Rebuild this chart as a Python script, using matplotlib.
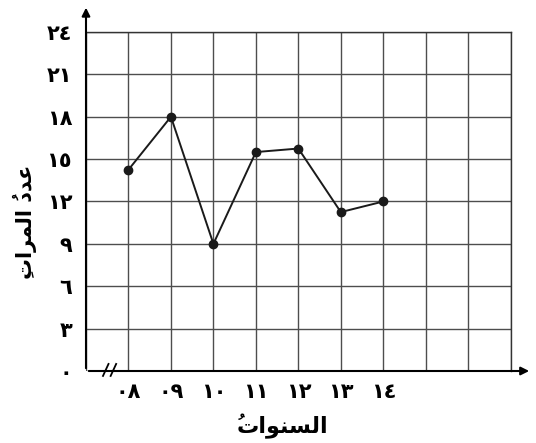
import matplotlib.pyplot as plt

plt.rcParams['font.family'] = ['DejaVu Sans']

# data
years = ['٠٨', '٠٩', '١٠', '١١', '١٢', '١٣', '١٤']
counts = [14.25, 18, 9, 15.5, 15.75, 11.25, 12]
y_ticks = [0, 3, 6, 9, 12, 15, 18, 21, 24]
y_labels = ['٠', '٣', '٦', '٩', '١٢', '١٥', '١٨', '٢١', '٢٤']

# arabic labels, pre-shaped (presentation forms, visual order) since matplotlib has no shaping
x_title = '\u064F\uFE95\uFE8D\uFEEE\uFEE8\uFEB4\uFEDF\uFE8D'          # السنواتُ
y_title = '\u0650\uFE95\uFE8D\uFEAE\uFEE4\uFEDF\uFE8D \u064F\uFEA9\uFEAA\uFECB'  # عددُ المراتِ

fig = plt.figure(figsize=(5.36, 4.43), dpi=100)
ax = fig.add_axes([86 / 536, 1 - 371 / 443, (510.7 - 86) / 536, (371 - 32) / 443])

xs = list(range(1, len(years) + 1))
ax.plot(xs, counts, color='#1a1a1a', lw=1.4, marker='o', ms=6, zorder=3, clip_on=False)

ax.set_xlim(0, 10)
ax.set_ylim(0, 24)
ax.set_xticks(range(0, 11))
ax.set_yticks(y_ticks)
ax.grid(True, color='#4d4d4d', lw=1.0)
ax.tick_params(length=0)
ax.set_xticklabels([''] + years + ['', '', ''], fontsize=15, fontweight='bold')
ax.set_yticklabels(y_labels, fontsize=15, fontweight='bold')
ax.tick_params(axis='x', pad=8)
ax.tick_params(axis='y', pad=10)

for s in ['top', 'right']:
    ax.spines[s].set_color('#333333')
    ax.spines[s].set_linewidth(1.0)
ax.spines['bottom'].set_visible(False)
ax.spines['left'].set_visible(False)

# axes with arrows
ax.annotate('', xy=(0, 1.08), xytext=(0, 0), xycoords='axes fraction',
            arrowprops=dict(arrowstyle='-|>', color='black', lw=1.5, mutation_scale=12))
ax.annotate('', xy=(1.05, 0), xytext=(0, 0), xycoords='axes fraction',
            arrowprops=dict(arrowstyle='-|>', color='black', lw=1.5, mutation_scale=12))

# break mark on x axis
for x0 in [0.40, 0.58]:
    ax.plot([x0, x0 + 0.13], [-0.35, 0.5], color='black', lw=1.3, clip_on=False, zorder=4)

fig.text(282 / 536, 1 - 426 / 443, x_title, ha='center', va='center', fontsize=16, fontweight='bold')
fig.text(25 / 536, 1 - 222 / 443, y_title, ha='center', va='center', rotation=90,
         fontsize=15, fontweight='bold')

fig.savefig('out.png', dpi=100, facecolor='white')
